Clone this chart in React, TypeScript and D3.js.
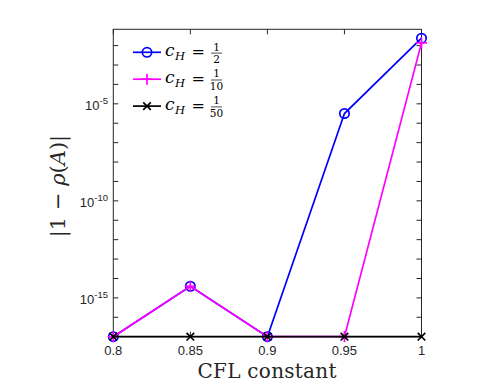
import React from "react";
import * as d3 from "d3";

const cfl = [0.8, 0.85, 0.9, 0.95, 1.0];
const seriesHalf = [1e-17, Math.pow(10, -14.4), 1e-17, Math.pow(10, -5.5), Math.pow(10, -1.62)];
const seriesTenth = [1e-17, Math.pow(10, -14.4), 1e-17, 1e-17, Math.pow(10, -1.86)];
const seriesFiftieth = [1e-17, 1e-17, 1e-17, 1e-17, 1e-17];
const xTicks = [0.8, 0.85, 0.9, 0.95, 1];
const xTickLabels = ["0.8", "0.85", "0.9", "0.95", "1"];
const yMajorExps = [-15, -10, -5];
const yMinorExps = [-16, -15, -14, -13, -12, -11, -10, -9, -8, -7, -6, -5, -4, -3, -2];
const legendDenoms = ["2", "10", "50"];

const W = 499;
const H = 387;
const L = 113.3, R = 421.5, T = 29.3, B = 336.7;

export default function App() {
  const x = d3.scaleLinear().domain([0.8, 1]).range([L, R]);
  const y = d3.scaleLog().domain([1e-17, Math.pow(10, -1.16)]).range([B, T]);
  const line = d3.line<number>().x((_, i) => x(cfl[i])).y((d) => y(d));
  const axisColor = "#262626";
  const tl = 5;

  const series = [
    { data: seriesHalf, color: "#0000ff", marker: "o" },
    { data: seriesTenth, color: "#ff00ff", marker: "+" },
    { data: seriesFiftieth, color: "#000000", marker: "x" },
  ];

  const marker = (m: string, cx: number, cy: number, color: string, key: string) => {
    if (m === "o") return <circle key={key} cx={cx} cy={cy} r={4.7} fill="none" stroke={color} strokeWidth={1.7} />;
    if (m === "+") {
      const s = 5.5;
      return (
        <g key={key} stroke={color} strokeWidth={1.7}>
          <line x1={cx - s} y1={cy} x2={cx + s} y2={cy} />
          <line x1={cx} y1={cy - s} x2={cx} y2={cy + s} />
        </g>
      );
    }
    const s = 3.8;
    return (
      <g key={key} stroke={color} strokeWidth={1.7}>
        <line x1={cx - s} y1={cy - s} x2={cx + s} y2={cy + s} />
        <line x1={cx - s} y1={cy + s} x2={cx + s} y2={cy - s} />
      </g>
    );
  };

  const serifStyle = { fontFamily: "DejaVu Serif, serif" };
  const sansStyle = { fontFamily: "Liberation Sans, Arial, Helvetica, Roboto, sans-serif" };

  return (
    <svg width={W} height={H} style={{ position: "absolute", left: 0, top: 0, background: "#fff" }}>
      <rect x={0} y={0} width={W} height={H} fill="#fff" />
      <rect x={L} y={T} width={R - L} height={B - T} fill="#fff" stroke={axisColor} strokeWidth={1} />
      {xTicks.map((t, i) => (
        <g key={"xt" + i} stroke={axisColor}>
          <line x1={x(t)} y1={B} x2={x(t)} y2={B - tl} />
          <line x1={x(t)} y1={T} x2={x(t)} y2={T + tl} />
        </g>
      ))}
      {xTicks.map((t, i) => (
        <text key={"xl" + i} x={x(t)} y={355} textAnchor="middle" style={sansStyle} fontSize={13} fill={axisColor}>
          {xTickLabels[i]}
        </text>
      ))}
      {yMinorExps.map((e) => {
        const yy = y(Math.pow(10, e));
        return (
          <g key={"yt" + e} stroke={axisColor}>
            <line x1={L} y1={yy} x2={L + tl} y2={yy} />
            <line x1={R} y1={yy} x2={R - tl} y2={yy} />
          </g>
        );
      })}
      {yMajorExps.map((e) => {
        const yy = y(Math.pow(10, e));
        return (
          <text key={"yl" + e} x={108} y={yy + 6.5} textAnchor="end" style={sansStyle} fontSize={13} fill={axisColor}>
            10
            <tspan fontSize={9.5} dy={-6.5}>{String(e)}</tspan>
          </text>
        );
      })}
      {series.map((s, si) => (
        <g key={"s" + si}>
          <path d={line(s.data) || ""} fill="none" stroke={s.color} strokeWidth={1.7} />
          {s.data.map((d, i) => marker(s.marker, x(cfl[i]), y(d), s.color, "m" + si + "-" + i))}
        </g>
      ))}
      {series.map((s, i) => {
        const ly = 52.3 + i * 26.9;
        return (
          <g key={"lg" + i}>
            <line x1={133} y1={ly} x2={161} y2={ly} stroke={s.color} strokeWidth={1.7} />
            {marker(s.marker, 147, ly, s.color, "lm" + i)}
            <text x={165} y={ly + 4} style={serifStyle} fontSize={17} fontStyle="italic" fill="#000">c</text>
            <text x={175} y={ly + 7.5} style={serifStyle} fontSize={11.5} fontStyle="italic" fill="#000">H</text>
            <text x={191.5} y={ly + 5} style={serifStyle} fontSize={16} fill="#000">=</text>
            <text x={216.5} y={ly - 1.8} textAnchor="middle" style={serifStyle} fontSize={10.5} fill="#000">1</text>
            <line x1={211} y1={ly + 0.8} x2={222} y2={ly + 0.8} stroke="#000" strokeWidth={0.7} />
            <text x={216.5} y={ly + 10.5} textAnchor="middle" style={serifStyle} fontSize={10.5} fill="#000">{legendDenoms[i]}</text>
          </g>
        );
      })}
      <text x={267} y={378} textAnchor="middle" style={serifStyle} fontSize={20} fill={axisColor} textLength={139} lengthAdjust="spacing">
        CFL constant
      </text>
      <text transform={`translate(65,186) rotate(-90)`} textAnchor="middle" style={serifStyle} fontSize={21} fill={axisColor}>
        |1 − <tspan fontStyle="italic">ρ</tspan>(<tspan fontStyle="italic">A</tspan>)|
      </text>
    </svg>
  );
}
